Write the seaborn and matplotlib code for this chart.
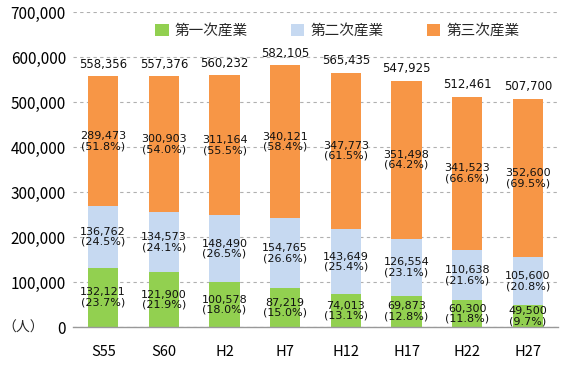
import matplotlib
matplotlib.use("Agg")
import matplotlib.pyplot as plt
import seaborn as sns
import pandas as pd
import numpy as np
from matplotlib.patches import Patch
from matplotlib.ticker import FuncFormatter, FixedLocator
from matplotlib import font_manager

years = ["S55", "S60", "H2", "H7", "H12", "H17", "H22", "H27"]
primary = [132121, 121900, 100578, 87219, 74013, 69873, 60300, 49500]
secondary = [136762, 134573, 148490, 154765, 143649, 126554, 110638, 105600]
tertiary = [289473, 300903, 311164, 340121, 347773, 351498, 341523, 352600]
totals = [558356, 557376, 560232, 582105, 565435, 547925, 512461, 507700]
pct_primary = ["23.7%", "21.9%", "18.0%", "15.0%", "13.1%", "12.8%", "11.8%", "9.7%"]
pct_secondary = ["24.5%", "24.1%", "26.5%", "26.6%", "25.4%", "23.1%", "21.6%", "20.8%"]
pct_tertiary = ["51.8%", "54.0%", "55.5%", "58.4%", "61.5%", "64.2%", "66.6%", "69.5%"]
series_names = ["第一次産業", "第二次産業", "第三次産業"]
colors = ["#92D050", "#C6D9F1", "#F79646"]

sns.set_theme(style="white")
avail = {f.name for f in font_manager.fontManager.ttflist}
narrow = "Liberation Sans Narrow" if "Liberation Sans Narrow" in avail else "DejaVu Sans"
plt.rcParams["font.family"] = ["Noto Sans CJK JP", "DejaVu Sans"]

df = pd.DataFrame({"year": years, "p": primary, "s": secondary, "t": tertiary})
df["c1"] = df["p"]
df["c2"] = df["p"] + df["s"]
df["c3"] = df["p"] + df["s"] + df["t"]

fig = plt.figure(figsize=(5.69, 3.80), dpi=100)
ax = fig.add_axes([0.128, 0.139, 0.853, 0.829])

for col, color in zip(["c3", "c2", "c1"], colors[::-1]):
    sns.barplot(data=df, x="year", y=col, color=color, width=0.5, ax=ax,
                saturation=1, edgecolor="none", zorder=3, order=years)

ax.set_ylim(0, 700000)
ax.set_xlim(-0.5, len(years) - 0.5)
ax.set_yticks(np.arange(0, 700001, 100000))
ax.yaxis.set_major_formatter(FuncFormatter(lambda v, p: f"{int(v):,}"))
ax.grid(axis="y", color="#B0B0B0", linestyle=(0, (3, 3)), linewidth=0.8, zorder=0)
ax.set_xlabel("")
ax.set_ylabel("")
for s in ["top", "right", "left"]:
    ax.spines[s].set_visible(False)
ax.spines["bottom"].set_color("#999999")
ax.spines["bottom"].set_linewidth(1.0)
ax.spines["bottom"].set_zorder(4)
ax.tick_params(axis="y", length=0, labelsize=11, pad=5, labelcolor="#000000")
ax.tick_params(axis="x", which="major", length=0, labelsize=10.5, pad=13, labelcolor="#000000")
ax.xaxis.set_minor_locator(FixedLocator(np.arange(-0.5, len(years), 1.0)))
ax.tick_params(axis="x", which="minor", length=5, color="#999999", width=1.0, direction="out")

lab_kw = dict(ha="center", va="center", fontsize=8, family=[narrow, "DejaVu Sans"],
              color="#111111", zorder=5, linespacing=1.0)
for i in range(len(years)):
    p, s, t = primary[i], secondary[i], tertiary[i]
    ax.text(i, p / 2, f"{p:,}\n({pct_primary[i]})", **lab_kw)
    ax.text(i, p + s / 2, f"{s:,}\n({pct_secondary[i]})", **lab_kw)
    ax.text(i, p + s + t / 2, f"{t:,}\n({pct_tertiary[i]})", **lab_kw)
    ax.text(i, p + s + t + 12000, f"{totals[i]:,}", ha="center", va="bottom",
            fontsize=8.5, family=[narrow, "DejaVu Sans"], color="#111111", zorder=5)

handles = [Patch(facecolor=c, edgecolor="none", label=n) for c, n in zip(colors, series_names)]
ax.legend(handles=handles, loc="upper center", bbox_to_anchor=(0.545, 1.005), ncol=3,
          frameon=False, fontsize=10.5, handlelength=0.9, handleheight=0.9,
          handletextpad=0.4, columnspacing=3.0)

fig.text(0.005, 0.139, "（人）", ha="left", va="center", fontsize=10)

fig.savefig("out.png", dpi=100)
